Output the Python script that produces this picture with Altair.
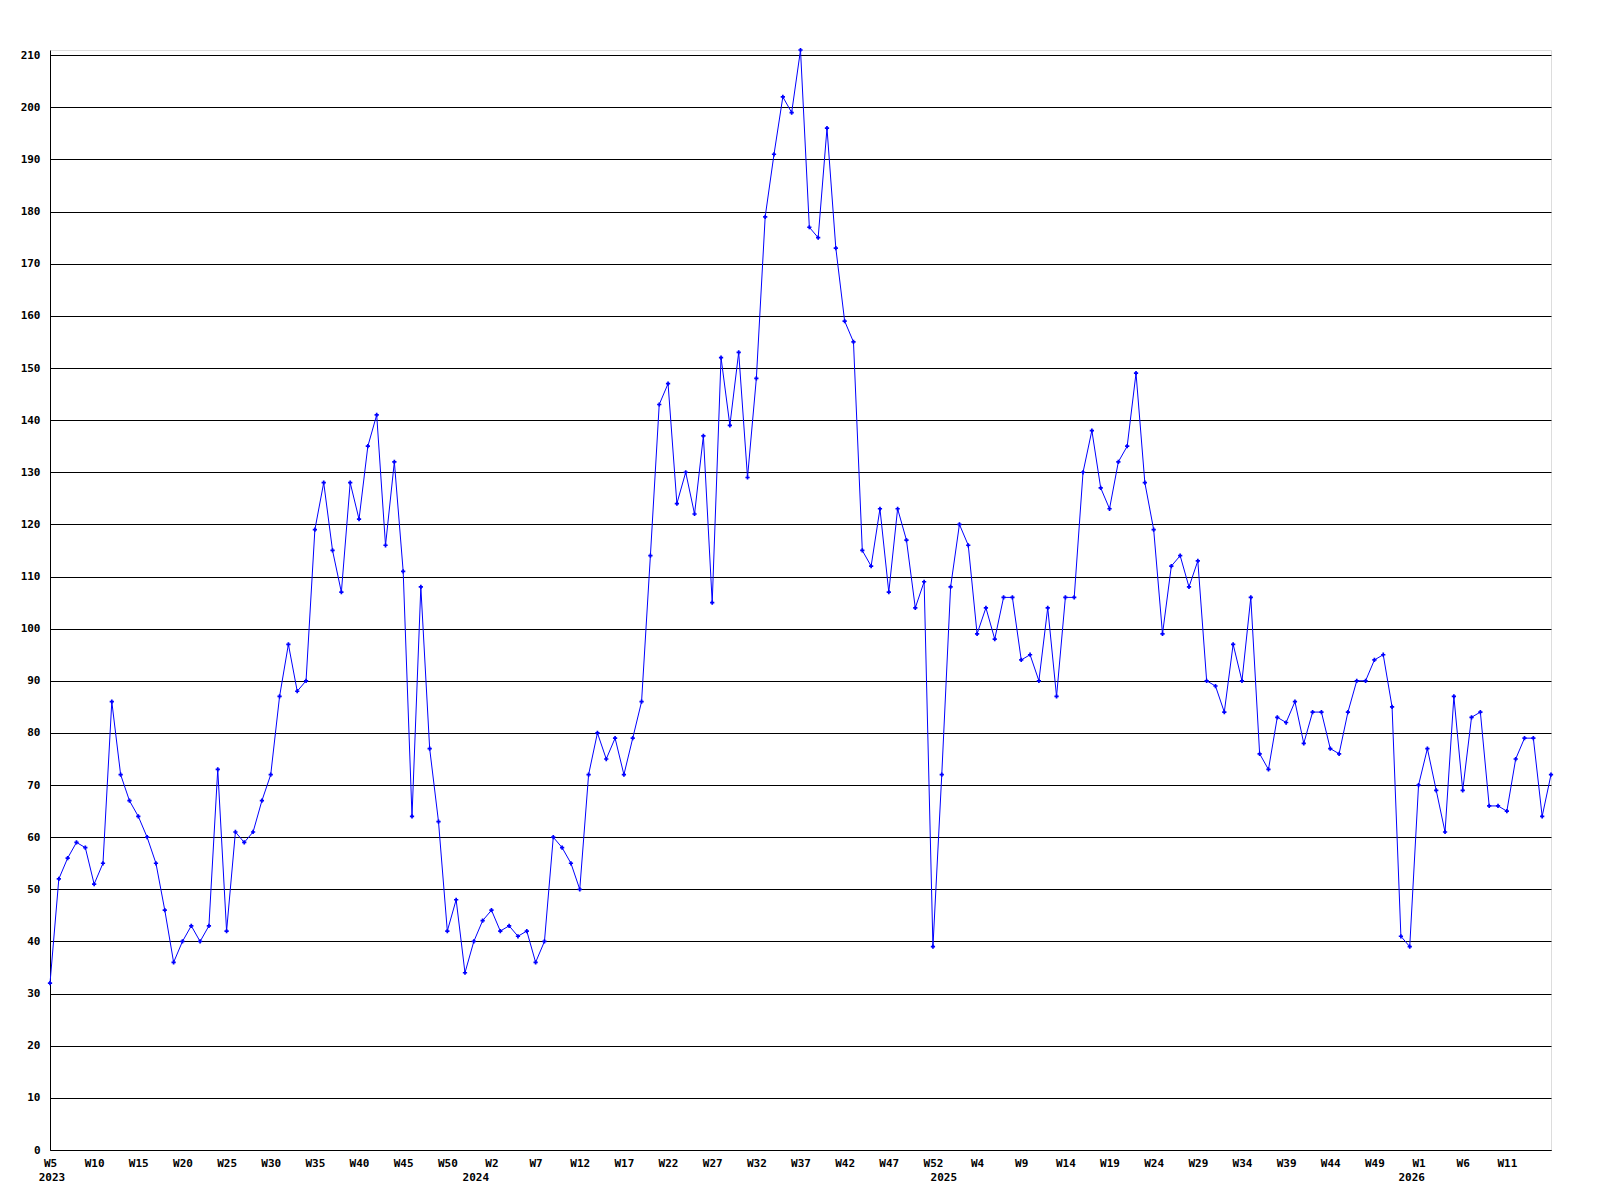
import altair as alt
import pandas as pd

# weekly values, 2023 W5 .. 2026 W16
values = [32, 52, 56, 59, 58, 51, 55, 86, 72, 67, 64, 60, 55, 46, 36, 40, 43, 40, 43, 73,
          42, 61, 59, 61, 67, 72, 87, 97, 88, 90, 119, 128, 115, 107, 128, 121, 135, 141, 116, 132,
          111, 64, 108, 77, 63, 42, 48, 34, 40, 44, 46, 42, 43, 41, 42, 36, 40, 60, 58, 55,
          50, 72, 80, 75, 79, 72, 79, 86, 114, 143, 147, 124, 130, 122, 137, 105, 152, 139, 153, 129,
          148, 179, 191, 202, 199, 211, 177, 175, 196, 173, 159, 155, 115, 112, 123, 107, 123, 117, 104, 109,
          39, 72, 108, 120, 116, 99, 104, 98, 106, 106, 94, 95, 90, 104, 87, 106, 106, 130, 138, 127,
          123, 132, 135, 149, 128, 119, 99, 112, 114, 108, 113, 90, 89, 84, 97, 90, 106, 76, 73, 83,
          82, 86, 78, 84, 84, 77, 76, 84, 90, 90, 94, 95, 85, 41, 39, 70, 77, 69, 61, 87,
          69, 83, 84, 66, 66, 65, 75, 79, 79, 64, 72]

# week numbers per year segment (first week, last week)
year_segments = [("2023", 5, 53), ("2024", 1, 53), ("2025", 1, 53), ("2026", 1, 16)]
week_labels = []
for _, w0, w1 in year_segments:
    week_labels += [f"W{w}" for w in range(w0, w1 + 1)]

year_labels = ["2023", "2024", "2025", "2026"]
year_index = [0, 48, 101, 154]

y_ticks = list(range(0, 211, 10))

df = pd.DataFrame({"i": list(range(len(values))), "v": values})
ydf = pd.DataFrame({"i": year_index, "year": year_labels})

W, H = 1501, 1100
FONT = "DejaVu Sans Mono"
n = len(values) - 1
tick_vals = list(range(0, n, 5))
lbl_js = "[" + ",".join(f"'{week_labels[t]}'" for t in tick_vals) + "]"

xscale = alt.Scale(domain=[0, n], nice=False, zero=False)
yscale = alt.Scale(domain=[0, 211], nice=False)

xaxis = alt.Axis(values=tick_vals, labelExpr=f"{lbl_js}[datum.value/5]", grid=False,
                 ticks=False, domainColor="black", domainWidth=1, labelFont=FONT,
                 labelFontWeight="bold", labelFontSize=11, labelColor="black",
                 labelPadding=7, title=None, labelOverlap=False, labelFlush=False)
yaxis = alt.Axis(values=y_ticks, grid=True, gridColor="black", gridWidth=1, gridOpacity=1,
                 ticks=False, domainColor="black", domainWidth=1, labelFont=FONT,
                 labelFontWeight="bold", labelFontSize=11, labelColor="black",
                 labelPadding=10, title=None, labelOverlap=False)

base = alt.Chart(df)
line = base.mark_line(color="#0000FF", strokeWidth=1, clip=False).encode(
    x=alt.X("i:Q", scale=xscale, axis=xaxis),
    y=alt.Y("v:Q", scale=yscale, axis=yaxis),
)
pts = base.mark_point(shape="cross", filled=True, size=18, color="#0000FF", opacity=1).encode(
    x=alt.X("i:Q", scale=xscale),
    y=alt.Y("v:Q", scale=yscale),
)
years = alt.Chart(ydf).mark_text(font=FONT, fontWeight="bold", fontSize=11, color="black",
                                 baseline="top", align="center", dx=2).encode(
    x=alt.X("i:Q", scale=xscale),
    y=alt.value(H + 22),
    text="year:N",
)

chart = alt.layer(line, pts, years).properties(
    width=W, height=H,
    autosize=alt.AutoSizeParams(type="none"),
    padding={"left": 42, "top": 42, "right": 40, "bottom": 40},
).configure_view(stroke="transparent", strokeWidth=0).configure(background="white")

chart.save("out.html", embed_options={"renderer": "svg", "actions": False})
